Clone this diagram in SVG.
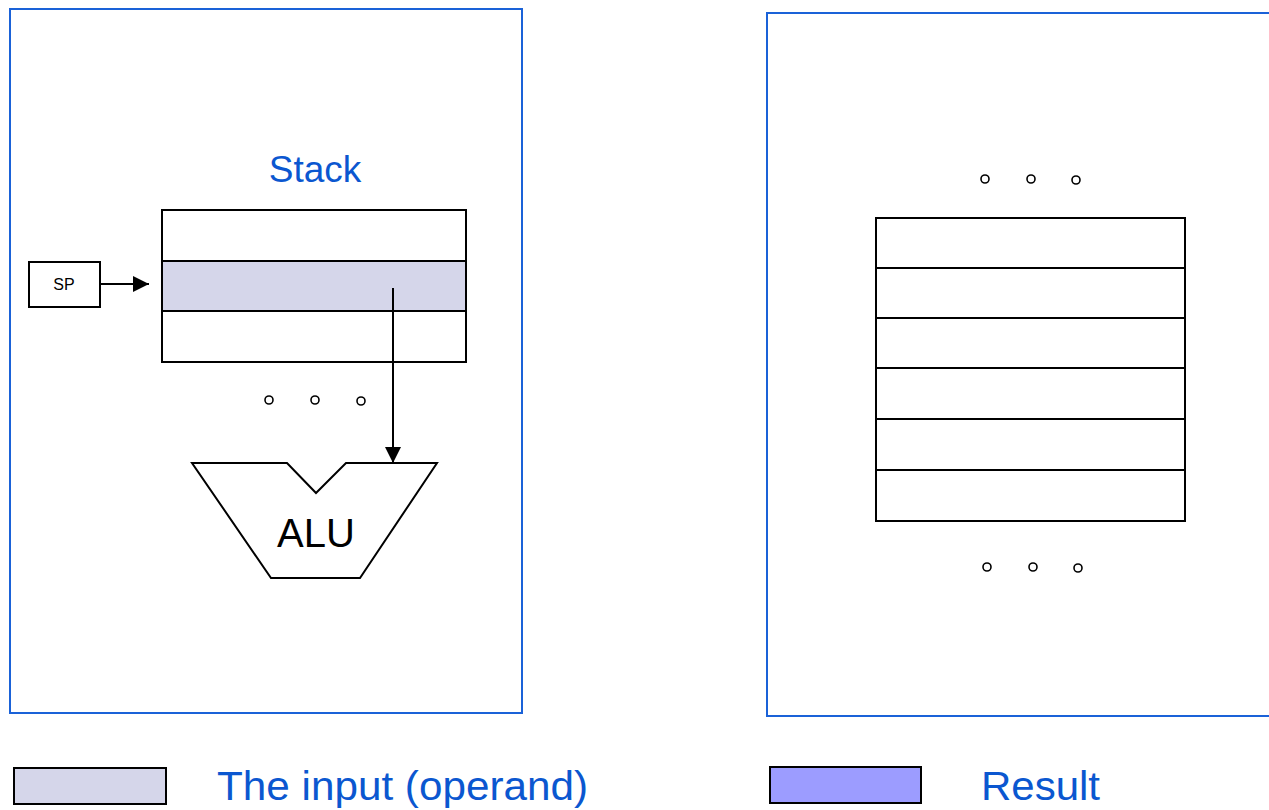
<svg xmlns="http://www.w3.org/2000/svg" width="1269" height="810" viewBox="0 0 1269 810">
<style>
.frame{fill:none;stroke:#1a62d8;stroke-width:2}
.cell{fill:#fff;stroke:#000;stroke-width:2}
.dot{fill:#fff;stroke:#000;stroke-width:1.6}
.blue{font-family:"Liberation Sans",Arial,sans-serif;fill:#0b57d0}
.blk{font-family:"Liberation Sans",Arial,sans-serif;fill:#000}
.ln{stroke:#000;stroke-width:2;fill:none}
</style>
<defs>
<marker id="ah2" viewBox="0 0 10 10" refX="10" refY="5" markerWidth="16" markerHeight="16" markerUnits="userSpaceOnUse" orient="auto">
<path d="M0,0 L10,5 L0,10 Z" fill="#000"/>
</marker>
</defs>
<rect width="1269" height="810" fill="#fff"/>
<g id="frame-left"><rect class="frame" x="10" y="9" width="512" height="704"/></g>
<g id="frame-right"><path class="frame" d="M1269,13 L767,13 L767,716 L1269,716"/></g>
<g id="stack-label"><text class="blue" x="315" y="182" font-size="37" text-anchor="middle">Stack</text></g>
<g id="stack-left">
<rect class="cell" x="162" y="210" width="304" height="51"/>
<rect class="cell" x="162" y="261" width="304" height="50" style="fill:#d5d6ea"/>
<rect class="cell" x="162" y="311" width="304" height="51"/>
</g>
<g id="sp"><rect class="cell" x="29" y="262" width="71" height="45"/><text class="blk" x="64" y="290" font-size="16" text-anchor="middle">SP</text></g>
<g id="dots-left">
<circle class="dot" cx="269" cy="400" r="4"/><circle class="dot" cx="315" cy="400" r="4"/><circle class="dot" cx="361" cy="401" r="4"/>
</g>
<g id="alu">
<polygon class="cell" points="192,463 287,463 316,493 346,463 437,463 360,578 271,578"/>
<text class="blk" x="316" y="547" font-size="40" text-anchor="middle">ALU</text>
</g>
<g id="stack-right">
<rect class="cell" x="876" y="218" width="309" height="50"/>
<rect class="cell" x="876" y="268" width="309" height="50"/>
<rect class="cell" x="876" y="318" width="309" height="50"/>
<rect class="cell" x="876" y="368" width="309" height="51"/>
<rect class="cell" x="876" y="419" width="309" height="51"/>
<rect class="cell" x="876" y="470" width="309" height="51"/>
</g>
<g id="dots-right">
<circle class="dot" cx="985" cy="179" r="4"/><circle class="dot" cx="1031" cy="179" r="4"/><circle class="dot" cx="1076" cy="180" r="4"/>
<circle class="dot" cx="987" cy="567" r="4"/><circle class="dot" cx="1033" cy="567" r="4"/><circle class="dot" cx="1078" cy="568" r="4"/>
</g>
<g id="legend-input"><rect x="14" y="768" width="152" height="36" fill="#d5d6ea" stroke="#000" stroke-width="2"/><text class="blue" x="217" y="800" font-size="40" textLength="371" lengthAdjust="spacingAndGlyphs">The input (operand)</text></g>
<g id="legend-result"><rect x="770" y="767" width="151" height="36" fill="#9c9cff" stroke="#000" stroke-width="2"/><text class="blue" x="981" y="800" font-size="40" textLength="119" lengthAdjust="spacingAndGlyphs">Result</text></g>
<g id="connectors">
<line class="ln" x1="100" y1="284" x2="149" y2="284" marker-end="url(#ah2)"/>
<line class="ln" x1="393" y1="288" x2="393" y2="463" marker-end="url(#ah2)"/>
</g>
</svg>
